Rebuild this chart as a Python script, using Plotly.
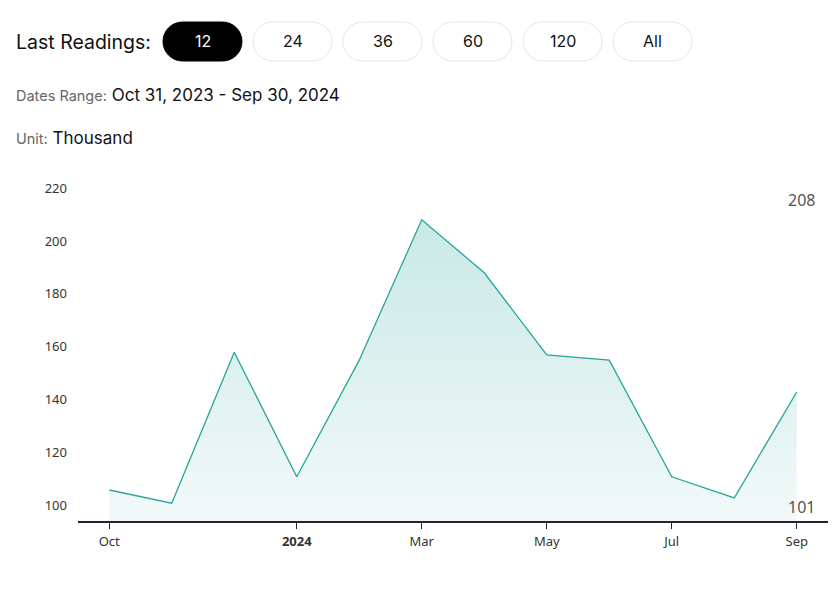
import plotly.graph_objects as go

# ---- data ----
months = ["2023-10", "2023-11", "2023-12", "2024-01", "2024-02", "2024-03",
          "2024-04", "2024-05", "2024-06", "2024-07", "2024-08", "2024-09"]
values = [106, 101, 158, 111, 155, 208, 188, 157, 155, 111, 103, 143]
tick_months = ["2023-10", "2024-01", "2024-03", "2024-05", "2024-07", "2024-09"]
tick_labels = ["Oct", "<b>2024</b>", "Mar", "May", "Jul", "Sep"]
y_ticks = [100, 120, 140, 160, 180, 200, 220]
buttons = ["12", "24", "36", "60", "120", "All"]
active_button = "12"

W, H = 840, 592
L, R, T, B = 78, 12, 180, 71
PW, PH = W - L - R, H - T - B

def px(x):
    return (x - L) / PW

def py(y):
    return (H - B - y) / PH

LINE = "rgb(38,166,154)"
FONT = "Noto Sans"
HEAD_FONT = "Inter"

fig = go.Figure()
fig.add_trace(go.Scatter(
    x=months, y=values, mode="lines",
    line=dict(color=LINE, width=1.3),
    fill="tozeroy",
    fillgradient=dict(type="vertical", start=94.3, stop=max(values),
                      colorscale=[[0, "rgba(38,166,154,0.06)"],
                                  [1, "rgba(38,166,154,0.25)"]]),
    hoverinfo="x+y", showlegend=False,
))

shapes = []
annotations = []

def pill_path(x0, y0, x1, y1, r):
    k = 0.5523 * r
    def P(x, y):
        return f"{px(x):.5f},{py(y):.5f}"
    d = f"M {P(x0 + r, y0)} L {P(x1 - r, y0)} "
    d += f"C {P(x1 - r + k, y0)} {P(x1, y0 + r - k)} {P(x1, y0 + r)} "
    d += f"L {P(x1, y1 - r)} "
    d += f"C {P(x1, y1 - r + k)} {P(x1 - r + k, y1)} {P(x1 - r, y1)} "
    d += f"L {P(x0 + r, y1)} "
    d += f"C {P(x0 + r - k, y1)} {P(x0, y1 - r + k)} {P(x0, y1 - r)} "
    d += f"L {P(x0, y0 + r)} "
    d += f"C {P(x0, y0 + r - k)} {P(x0 + r - k, y0)} {P(x0 + r, y0)} Z"
    return d

for i, lab in enumerate(buttons):
    x0 = 163 + 90 * i
    x1 = x0 + 79
    y0, y1 = 22, 61
    active = lab == active_button
    shapes.append(dict(
        type="path", xref="paper", yref="paper",
        path=pill_path(x0, y0, x1, y1, 19.5),
        fillcolor="#000000" if active else "#ffffff",
        line=dict(color="#000000" if active else "#e6e6e6", width=1),
        layer="above",
    ))
    annotations.append(dict(
        x=px((x0 + x1) / 2), y=py((y0 + y1) / 2), xref="paper", yref="paper",
        text=lab, showarrow=False, xanchor="center", yanchor="middle",
        font=dict(family=HEAD_FONT, size=16, color="#ffffff" if active else "#111111"),
    ))

annotations.append(dict(
    x=px(14), y=py(42), xref="paper", yref="paper", text="Last Readings:",
    showarrow=False, xanchor="left", yanchor="middle",
    font=dict(family=HEAD_FONT, size=19.5, color="#111111"),
))
annotations.append(dict(
    x=px(14), y=py(95), xref="paper", yref="paper",
    text='<span style="font-size:14.5px;color:#666666">Dates Range:</span> Oct 31, 2023 - Sep 30, 2024',
    showarrow=False, xanchor="left", yanchor="middle",
    font=dict(family=HEAD_FONT, size=17, color="#111111"),
))
annotations.append(dict(
    x=px(14), y=py(138), xref="paper", yref="paper",
    text='<span style="font-size:14.5px;color:#666666">Unit:</span> Thousand',
    showarrow=False, xanchor="left", yanchor="middle",
    font=dict(family=HEAD_FONT, size=17, color="#111111"),
))

annotations.append(dict(
    x=px(817), y=py(200), xref="paper", yref="paper", text=str(max(values)),
    showarrow=False, xanchor="right", yanchor="middle",
    font=dict(family=FONT, size=16, color="#555555"),
))
annotations.append(dict(
    x=px(817), y=py(507), xref="paper", yref="paper", text=str(min(values)),
    showarrow=False, xanchor="right", yanchor="middle",
    font=dict(family=FONT, size=16, color="#555555"),
))

fig.update_layout(
    width=W, height=H,
    margin=dict(l=L, r=R, t=T, b=B),
    paper_bgcolor="#ffffff", plot_bgcolor="#ffffff",
    shapes=shapes, annotations=annotations,
    xaxis=dict(
        type="category", categoryorder="array", categoryarray=months,
        range=[-0.5, len(months) - 0.5],
        tickvals=tick_months, ticktext=tick_labels,
        ticks="outside", ticklen=6, tickcolor="#1f2233", tickwidth=1,
        showline=True, linecolor="#1f2233", linewidth=1.5,
        showgrid=False, zeroline=False,
        ticklabelstandoff=2,
        tickfont=dict(family=FONT, size=13, color="#333333"),
        fixedrange=True,
    ),
    yaxis=dict(
        range=[94.3, 223], tickvals=y_ticks,
        showgrid=False, zeroline=False, showline=False,
        ticks="", ticklabelstandoff=10,
        tickfont=dict(family=FONT, size=13, color="#333333"),
        fixedrange=True,
    ),
)

fig.write_html("out.html")
